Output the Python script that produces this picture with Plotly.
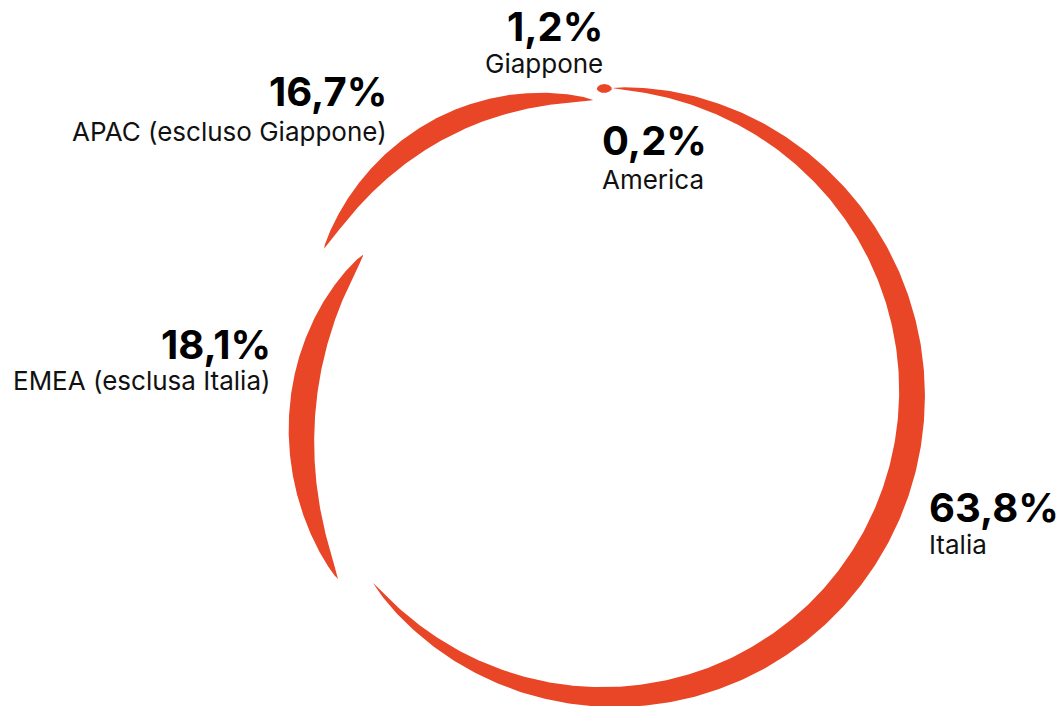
import numpy as np
import plotly.graph_objects as go

# ---------------- data ----------------
regions = ["Italia", "EMEA (esclusa Italia)", "APAC (escluso Giappone)", "Giappone", "America"]
shares = [63.8, 18.1, 16.7, 1.2, 0.2]
pct_labels = ["63,8%", "18,1%", "16,7%", "1,2%", "0,2%"]

# ---------------- style ----------------
W, H = 1063, 706
CX, CY = 607.5, 395.0          # ring centre (px)
COLOR = "#E94628"
# angular offsets (deg) applied to the data-derived start/end of each arc
start_off = [0.84, 6.0, 2.46, 3.04, 0.0]
end_off = [1.6, 5.0, 2.24, 1.52, 0.0]
# radial shape of each crescent
r_start = [307.0, 326.3, 319.0, 306.5, 306.0]
r_end = [300.6, 281.7, 295.4, 306.5, 306.0]
bow = [0.0, 1.0, 7.6, 0.0, 0.0]
w_max = [27.0, 26.3, 22.0, 9.0, 0.0]
taper = [0.7, 0.7, 0.7, 0.5, 0.7]

# label layout: (x, cap-middle y of %, cap-middle y of name, anchor)
lab_x = [927, 273, 389, 605, 600]
lab_pct_y = [507, 344, 91, 26.5, 140]
lab_name_y = [544, 380.5, 131, 63, 179.5]
lab_anchor = ["left", "right", "right", "right", "left"]

fig = go.Figure()

cum = np.concatenate([[0.0], np.cumsum(shares)])
for i, name in enumerate(regions):
    if w_max[i] <= 0:
        continue
    a0 = cum[i] / 100 * 360 + start_off[i]
    a1 = cum[i + 1] / 100 * 360 + end_off[i]
    u = np.linspace(0, 1, 400)
    th = np.radians(a0 + (a1 - a0) * u)
    rm = r_start[i] + (r_end[i] - r_start[i]) * u + bow[i] * np.sin(np.pi * u)
    w = w_max[i] * np.clip(np.sin(np.pi * u), 0, None) ** taper[i]
    ro = rm + w / 2
    ri = rm - w / 2
    xo = CX + ro * np.sin(th)
    yo = CY - ro * np.cos(th)
    xi = CX + ri * np.sin(th)
    yi = CY - ri * np.cos(th)
    xs = np.concatenate([xo, xi[::-1]])
    ys = np.concatenate([yo, yi[::-1]])
    fig.add_trace(go.Scatter(x=xs, y=ys, fill="toself", fillcolor=COLOR,
                             line=dict(width=0), mode="lines",
                             hoverinfo="text", text=f"{name}: {pct_labels[i]}",
                             showlegend=False))

for i, name in enumerate(regions):
    fig.add_annotation(x=lab_x[i], y=lab_pct_y[i], xref="x", yref="y",
                       text=f"<b>{pct_labels[i]}</b>", showarrow=False,
                       xanchor=lab_anchor[i], yanchor="middle",
                       font=dict(family="Inter", size=40, color="#000000"))
    fig.add_annotation(x=lab_x[i], y=lab_name_y[i], xref="x", yref="y",
                       text=name, showarrow=False,
                       xanchor=lab_anchor[i], yanchor="middle",
                       font=dict(family="Inter", size=26, color="#111111"))

fig.update_layout(
    width=W, height=H, margin=dict(l=0, r=0, t=0, b=0),
    paper_bgcolor="white", plot_bgcolor="white",
    xaxis=dict(range=[0, W], visible=False, fixedrange=True),
    yaxis=dict(range=[H, 0], visible=False, fixedrange=True),
)

fig.write_html("out.html")
